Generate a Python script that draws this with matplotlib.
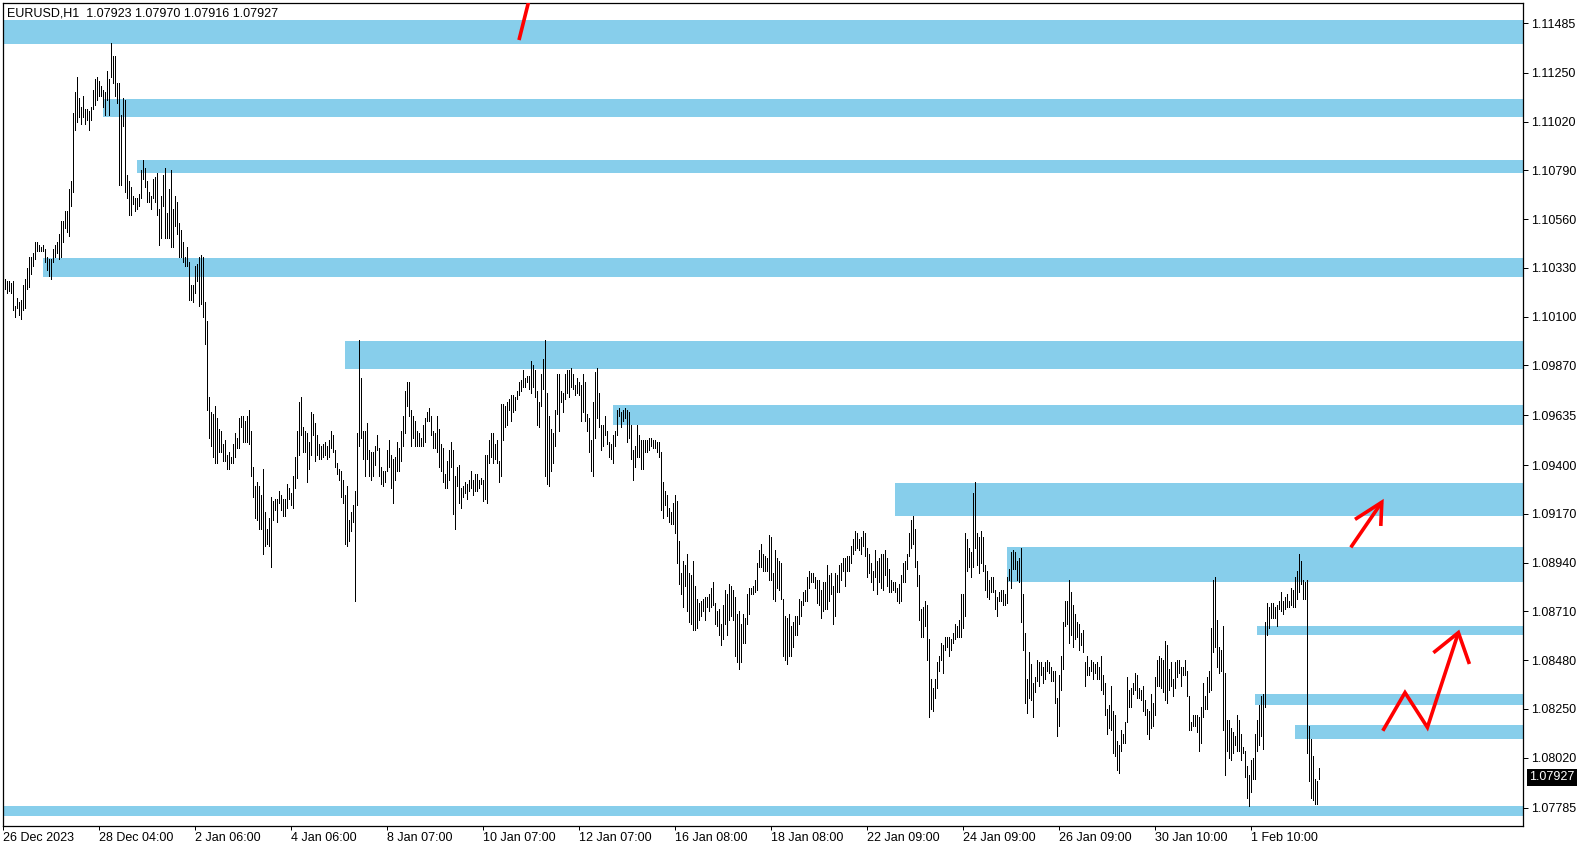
import numpy as np
import matplotlib
matplotlib.use("Agg")
import matplotlib.pyplot as plt
from matplotlib.patches import Rectangle
from matplotlib.transforms import blended_transform_factory

plt.rcParams['font.family'] = ['Liberation Sans', 'DejaVu Sans']

SYMBOL = "EURUSD,H1"
LAST_OHLC = [1.07923, 1.07970, 1.07916, 1.07927]
LAST_PRICE = 1.07927

# hourly bar highs / lows, in pips (1e-4)
HIGH_PIPS = [
    11029, 11028, 11027, 11027, 11026, 11027, 11015, 11019, 11017, 11018,
    11025, 11028, 11033, 11038, 11038, 11040, 11045, 11045, 11044, 11043,
    11044, 11042, 11038, 11037, 11037, 11042, 11044, 11045, 11049, 11055,
    11055, 11060, 11060, 11070, 11074, 11106, 11116, 11123, 11113, 11109,
    11114, 11108, 11108, 11107, 11109, 11117, 11122, 11123, 11121, 11119,
    11117, 11116, 11126, 11122, 11139, 11133, 11133, 11120, 11120, 11105,
    11113, 11112, 11077, 11074, 11071, 11067, 11066, 11066, 11068, 11079,
    11084, 11080, 11074, 11069, 11067, 11075, 11076, 11078, 11061, 11067,
    11077, 11080, 11059, 11070, 11079, 11061, 11067, 11064, 11054, 11051,
    11045, 11038, 11043, 11036, 11025, 11025, 11034, 11035, 11038, 11039,
    11038, 11017, 11008, 10972, 10965, 10964, 10968, 10962, 10957, 10956,
    10950, 10952, 10945, 10946, 10944, 10950, 10955, 10953, 10962, 10963,
    10963, 10961, 10963, 10966, 10956, 10939, 10930, 10932, 10930, 10926,
    10938, 10918, 10910, 10915, 10925, 10923, 10924, 10924, 10928, 10926,
    10924, 10924, 10931, 10929, 10927, 10935, 10944, 10956, 10970, 10972,
    10958, 10956, 10955, 10951, 10965, 10964, 10960, 10954, 10950, 10949,
    10950, 10951, 10949, 10952, 10956, 10954, 10947, 10941, 10938, 10937,
    10933, 10926, 10930, 10914, 10918, 10921, 10928, 10955, 10999, 10981,
    10956, 10956, 10960, 10947, 10946, 10946, 10949, 10954, 10948, 10939,
    10937, 10937, 10947, 10952, 10945, 10943, 10944, 10951, 10948, 10956,
    10963, 10975, 10979, 10979, 10966, 10963, 10961, 10956, 10955, 10953,
    10959, 10962, 10965, 10967, 10963, 10956, 10955, 10963, 10957, 10950,
    10948, 10936, 10942, 10947, 10951, 10947, 10935, 10939, 10940, 10929,
    10930, 10932, 10931, 10933, 10937, 10933, 10936, 10936, 10933, 10934,
    10933, 10945, 10945, 10952, 10955, 10955, 10950, 10952, 10942, 10969,
    10969, 10968, 10970, 10971, 10973, 10973, 10972, 10975, 10979, 10980,
    10985, 10981, 10982, 10982, 10989, 10987, 10985, 10975, 10970, 10983,
    10990, 10999, 10974, 10963, 10957, 10955, 10966, 10983, 10983, 10975,
    10974, 10983, 10985, 10985, 10986, 10983, 10978, 10981, 10979, 10978,
    10983, 10979, 10964, 10962, 10952, 10970, 10984, 10986, 10974, 10959,
    10959, 10963, 10956, 10951, 10950, 10954, 10956, 10966, 10967, 10965,
    10966, 10967, 10966, 10965, 10959, 10947, 10949, 10959, 10954, 10952,
    10952, 10952, 10952, 10953, 10953, 10952, 10952, 10951, 10951, 10946,
    10932, 10928, 10926, 10920, 10918, 10922, 10926, 10923, 10904, 10889,
    10895, 10893, 10898, 10889, 10888, 10895, 10883, 10877, 10875, 10876,
    10877, 10878, 10878, 10879, 10882, 10885, 10875, 10871, 10872, 10865,
    10874, 10881, 10879, 10884, 10883, 10881, 10878, 10870, 10871, 10865,
    10870, 10868, 10879, 10882, 10882, 10883, 10886, 10894, 10900, 10903,
    10898, 10897, 10896, 10907, 10906, 10889, 10900, 10896, 10895, 10894,
    10877, 10869, 10868, 10870, 10864, 10866, 10869, 10869, 10877, 10876,
    10880, 10881, 10887, 10890, 10889, 10889, 10887, 10886, 10886, 10881,
    10885, 10885, 10893, 10888, 10889, 10883, 10889, 10888, 10893, 10894,
    10896, 10896, 10897, 10897, 10902, 10905, 10909, 10908, 10905, 10906,
    10909, 10908, 10901, 10898, 10894, 10890, 10900, 10895, 10896, 10898,
    10898, 10900, 10896, 10891, 10886, 10885, 10885, 10882, 10884, 10888,
    10894, 10895, 10898, 10908, 10914, 10916, 10910, 10895, 10888, 10872,
    10873, 10876, 10874, 10858, 10839, 10835, 10839, 10847, 10850, 10856,
    10855, 10859, 10859, 10859, 10858, 10861, 10865, 10864, 10867, 10879,
    10879, 10908, 10905, 10901, 10899, 10927, 10932, 10908, 10906, 10909,
    10906, 10893, 10890, 10886, 10887, 10887, 10881, 10878, 10880, 10881,
    10881, 10879, 10887, 10891, 10899, 10900, 10899, 10895, 10896, 10901,
    10879, 10861, 10839, 10852, 10846, 10837, 10840, 10848, 10847, 10847,
    10845, 10847, 10848, 10847, 10845, 10843, 10843, 10830, 10841, 10850,
    10866, 10876, 10876, 10886, 10880, 10874, 10870, 10866, 10865, 10861,
    10862, 10847, 10850, 10845, 10848, 10847, 10846, 10847, 10845, 10850,
    10841, 10837, 10825, 10827, 10836, 10824, 10822, 10810, 10808, 10815,
    10813, 10819, 10840, 10834, 10835, 10837, 10842, 10841, 10835, 10834,
    10836, 10829, 10825, 10824, 10832, 10828, 10840, 10848, 10850, 10849,
    10848, 10857, 10855, 10844, 10847, 10839, 10847, 10848, 10848, 10845,
    10845, 10848, 10843, 10831, 10819, 10822, 10822, 10822, 10821, 10826,
    10837, 10831, 10840, 10843, 10863, 10886, 10887, 10867, 10854, 10853,
    10864, 10842, 10820, 10820, 10816, 10814, 10812, 10822, 10820, 10813,
    10807, 10805, 10798, 10794, 10801, 10802, 10813, 10820, 10827, 10831,
    10832, 10866, 10875, 10873, 10875, 10875, 10873, 10874, 10876, 10880,
    10876, 10878, 10879, 10876, 10882, 10881, 10887, 10890, 10898, 10895,
    10886, 10885, 10886, 10817, 10811, 10803, 10792, 10791, 10797,
]
LOW_PIPS = [
    11025, 11023, 11021, 11022, 11021, 11013, 11010, 11014, 11011, 11009,
    11013, 11014, 11023, 11024, 11030, 11034, 11037, 11041, 11041, 11041,
    11041, 11036, 11032, 11029, 11028, 11036, 11038, 11040, 11037, 11038,
    11045, 11052, 11050, 11048, 11062, 11069, 11098, 11102, 11104, 11101,
    11104, 11101, 11103, 11098, 11103, 11108, 11110, 11112, 11114, 11114,
    11109, 11105, 11112, 11105, 11123, 11120, 11114, 11111, 11072, 11072,
    11100, 11069, 11066, 11058, 11058, 11063, 11060, 11061, 11062, 11066,
    11075, 11071, 11064, 11064, 11061, 11066, 11064, 11058, 11044, 11047,
    11062, 11047, 11047, 11047, 11043, 11043, 11053, 11049, 11038, 11038,
    11036, 11034, 11034, 11018, 11018, 11017, 11021, 11027, 11015, 11016,
    11010, 10997, 10966, 10953, 10949, 10944, 10941, 10941, 10946, 10946,
    10942, 10942, 10938, 10938, 10941, 10941, 10944, 10948, 10948, 10958,
    10951, 10951, 10951, 10950, 10935, 10925, 10915, 10914, 10910, 10910,
    10898, 10902, 10903, 10902, 10892, 10914, 10919, 10913, 10922, 10919,
    10916, 10916, 10920, 10924, 10921, 10920, 10929, 10934, 10945, 10954,
    10946, 10946, 10932, 10938, 10945, 10954, 10942, 10945, 10943, 10943,
    10944, 10945, 10943, 10944, 10948, 10946, 10939, 10936, 10933, 10925,
    10922, 10903, 10902, 10904, 10909, 10913, 10876, 10921, 10949, 10953,
    10943, 10935, 10943, 10935, 10933, 10935, 10940, 10947, 10935, 10931,
    10930, 10932, 10937, 10939, 10929, 10922, 10933, 10937, 10937, 10942,
    10949, 10955, 10968, 10963, 10949, 10953, 10949, 10949, 10949, 10949,
    10949, 10951, 10961, 10961, 10954, 10948, 10948, 10946, 10939, 10937,
    10932, 10929, 10929, 10933, 10939, 10917, 10910, 10930, 10922, 10920,
    10925, 10927, 10924, 10928, 10929, 10926, 10928, 10928, 10929, 10931,
    10923, 10924, 10922, 10941, 10944, 10941, 10943, 10941, 10932, 10935,
    10952, 10958, 10959, 10966, 10961, 10965, 10966, 10971, 10973, 10975,
    10977, 10977, 10979, 10976, 10974, 10977, 10972, 10959, 10958, 10968,
    10976, 10935, 10931, 10930, 10937, 10941, 10949, 10964, 10956, 10970,
    10965, 10971, 10974, 10972, 10977, 10976, 10973, 10974, 10973, 10961,
    10965, 10961, 10956, 10946, 10937, 10935, 10953, 10962, 10958, 10947,
    10949, 10954, 10950, 10944, 10943, 10941, 10949, 10954, 10963, 10958,
    10961, 10962, 10951, 10953, 10943, 10933, 10939, 10944, 10944, 10938,
    10938, 10946, 10946, 10947, 10949, 10948, 10948, 10946, 10944, 10919,
    10915, 10921, 10916, 10913, 10912, 10912, 10908, 10894, 10884, 10879,
    10873, 10883, 10871, 10866, 10865, 10862, 10862, 10863, 10867, 10869,
    10871, 10867, 10873, 10871, 10873, 10874, 10865, 10864, 10860, 10855,
    10858, 10865, 10860, 10867, 10869, 10867, 10850, 10847, 10844, 10847,
    10856, 10856, 10865, 10870, 10879, 10879, 10880, 10881, 10892, 10892,
    10890, 10890, 10890, 10886, 10886, 10877, 10876, 10882, 10881, 10877,
    10850, 10848, 10846, 10850, 10850, 10854, 10860, 10860, 10865, 10869,
    10874, 10876, 10876, 10882, 10885, 10885, 10882, 10875, 10874, 10868,
    10871, 10872, 10872, 10876, 10879, 10865, 10869, 10880, 10880, 10886,
    10890, 10883, 10890, 10890, 10894, 10898, 10900, 10901, 10900, 10898,
    10902, 10897, 10887, 10889, 10885, 10881, 10887, 10879, 10885, 10882,
    10881, 10888, 10883, 10880, 10880, 10881, 10880, 10876, 10875, 10876,
    10885, 10885, 10891, 10897, 10901, 10903, 10892, 10883, 10867, 10859,
    10859, 10864, 10848, 10821, 10825, 10824, 10830, 10835, 10843, 10848,
    10842, 10853, 10854, 10850, 10853, 10856, 10858, 10859, 10859, 10859,
    10863, 10869, 10890, 10892, 10887, 10892, 10901, 10893, 10889, 10894,
    10890, 10881, 10878, 10877, 10880, 10880, 10872, 10869, 10876, 10876,
    10874, 10874, 10875, 10886, 10882, 10891, 10891, 10886, 10885, 10866,
    10853, 10828, 10823, 10830, 10829, 10821, 10833, 10838, 10836, 10841,
    10837, 10839, 10843, 10842, 10838, 10838, 10828, 10812, 10817, 10834,
    10844, 10864, 10865, 10856, 10860, 10854, 10858, 10859, 10853, 10855,
    10852, 10836, 10841, 10841, 10843, 10839, 10842, 10839, 10839, 10834,
    10832, 10822, 10813, 10816, 10815, 10804, 10803, 10796, 10795, 10805,
    10809, 10809, 10819, 10826, 10826, 10832, 10834, 10830, 10830, 10829,
    10824, 10822, 10813, 10811, 10816, 10817, 10822, 10836, 10836, 10835,
    10833, 10829, 10828, 10834, 10836, 10831, 10835, 10840, 10842, 10836,
    10841, 10841, 10831, 10815, 10815, 10817, 10817, 10814, 10805, 10809,
    10821, 10825, 10825, 10833, 10834, 10852, 10854, 10845, 10842, 10843,
    10815, 10794, 10805, 10802, 10801, 10804, 10808, 10805, 10805, 10801,
    10804, 10793, 10783, 10779, 10786, 10792, 10792, 10805, 10808, 10812,
    10806, 10826, 10860, 10863, 10868, 10868, 10868, 10864, 10872, 10871,
    10870, 10872, 10873, 10873, 10874, 10873, 10873, 10877, 10880, 10884,
    10877, 10877, 10804, 10791, 10783, 10782, 10780, 10780, 10792,
]

X_TICK_BARS = [0, 48, 96, 144, 192, 240, 288, 336, 384, 432, 480, 528, 576, 624]
X_TICK_LABELS = ['26 Dec 2023', '28 Dec 04:00', '2 Jan 06:00', '4 Jan 06:00',
                 '8 Jan 07:00', '10 Jan 07:00', '12 Jan 07:00', '16 Jan 08:00',
                 '18 Jan 08:00', '22 Jan 09:00', '24 Jan 09:00', '26 Jan 09:00',
                 '30 Jan 10:00', '1 Feb 10:00']
Y_TICKS = [1.11485, 1.11250, 1.11020, 1.10790, 1.10560, 1.10330, 1.10100,
           1.09870, 1.09635, 1.09400, 1.09170, 1.08940, 1.08710, 1.08480,
           1.08250, 1.08020, 1.07785]

# supply / demand zones: first bar, upper price, lower price
ZONE_START = [-5, 50, 67, 20, 171, 305, 446, 502, 627, 626, 646, -5]
ZONE_TOP = [1.11499, 1.11127, 1.10839, 1.10377, 1.09985, 1.09684, 1.09316,
            1.09014, 1.08641, 1.08320, 1.08174, 1.07792]
ZONE_BOTTOM = [1.11384, 1.11044, 1.10779, 1.10289, 1.09853, 1.09589, 1.09161,
               1.08850, 1.08599, 1.08268, 1.08108, 1.07745]

# hand-drawn red annotations (bar index, price)
TOP_STROKE_X = [258.0, 263.4]
TOP_STROKE_Y = [1.11405, 1.11608]
ARROW1_SHAFT_X = [673.9, 689.4]
ARROW1_SHAFT_Y = [1.09012, 1.09225]
ARROW1_HEAD_X = [676.0, 689.4, 688.9]
ARROW1_HEAD_Y = [1.09144, 1.09225, 1.09113]
ZIGZAG_X = [689.9, 701.0, 712.2, 727.7]
ZIGZAG_Y = [1.08147, 1.08327, 1.08163, 1.08610]
ARROW2_HEAD_X = [715.2, 727.7, 733.2]
ARROW2_HEAD_Y = [1.08515, 1.08610, 1.08462]

ZONE_COLOR = '#87CEEB'

high = np.array(HIGH_PIPS) / 1e4
low = np.array(LOW_PIPS) / 1e4
idx = np.arange(len(high))

W, H = 1587, 850
fig = plt.figure(figsize=(W / 100, H / 100), dpi=100)
fig.patch.set_facecolor('white')
left_px, right_px, top_px, bottom_px = 2.5, 1523, 2.5, 826
ax = fig.add_axes([left_px / W, 1 - bottom_px / H,
                   (right_px - left_px) / W, (bottom_px - top_px) / H])
ax.set_facecolor('white')

for s, t, b in zip(ZONE_START, ZONE_TOP, ZONE_BOTTOM):
    ax.add_patch(Rectangle((s, b), 2000, t - b, facecolor=ZONE_COLOR,
                           edgecolor='none', zorder=1))

ax.vlines(idx, low, high, colors='black', linewidth=0.72,
          antialiased=False, zorder=2)

red_kw = dict(color='#FF0000', lw=2.6, solid_capstyle='butt',
              solid_joinstyle='miter', zorder=3)
ax.plot(TOP_STROKE_X, TOP_STROKE_Y, **red_kw)
ax.plot(ARROW1_SHAFT_X, ARROW1_SHAFT_Y, **red_kw)
ax.plot(ARROW1_HEAD_X, ARROW1_HEAD_Y, **red_kw)
ax.plot(ZIGZAG_X, ZIGZAG_Y, **red_kw)
ax.plot(ARROW2_HEAD_X, ARROW2_HEAD_Y, **red_kw)

ax.set_xlim(-0.25, 760)
ax.set_ylim(1.076978, 1.115820)

ax.yaxis.tick_right()
ax.set_yticks(Y_TICKS)
ax.set_yticklabels([f"{v:.5f}" for v in Y_TICKS])
ax.tick_params(axis='y', which='both', left=False, right=True, direction='out',
               length=3.5, width=0.72, pad=2.5, labelsize=9, colors='black')
ax.set_xticks(X_TICK_BARS)
ax.set_xticklabels(X_TICK_LABELS)
for lab in ax.get_xticklabels():
    lab.set_horizontalalignment('left')
ax.tick_params(axis='x', which='both', bottom=True, top=False, direction='out',
               length=3, width=0.72, pad=1.5, labelsize=9, colors='black')

for sp in ax.spines.values():
    sp.set_color('black')
    sp.set_linewidth(0.9)

trans = blended_transform_factory(ax.transAxes, ax.transData)
ax.annotate(f"{LAST_PRICE:.5f}", xy=(1.0, LAST_PRICE), xycoords=trans,
            xytext=(6, 0), textcoords='offset pixels', ha='left', va='center',
            color='white', fontsize=9, annotation_clip=False,
            bbox=dict(boxstyle='square,pad=0.2', fc='black', ec='none'))

header = SYMBOL + "  " + " ".join(f"{v:.5f}" for v in LAST_OHLC)
fig.text(7 / W, 1 - 13 / H, header, ha='left', va='center', fontsize=9,
         color='black')

fig.savefig('out.png', dpi=100, facecolor='white')
